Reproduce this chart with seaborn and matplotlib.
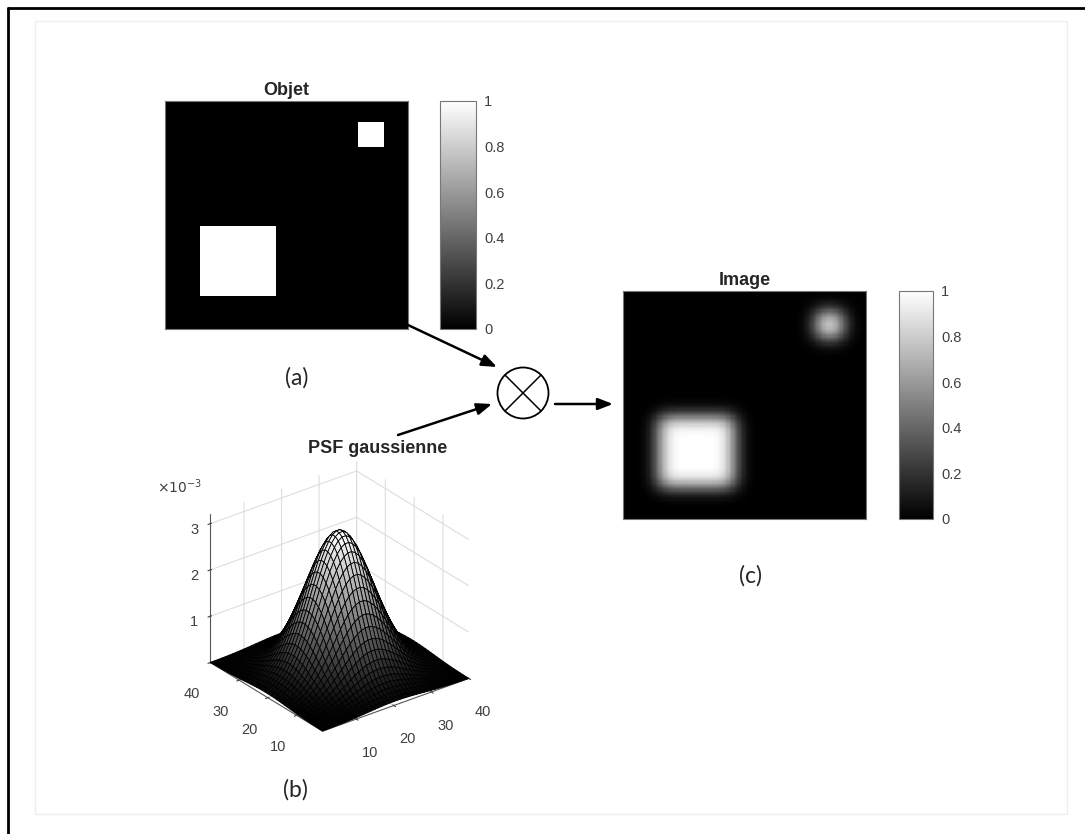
import numpy as np
import matplotlib
matplotlib.use("Agg")
import matplotlib.pyplot as plt
import seaborn as sns
from matplotlib.patches import Circle, Rectangle

sns.set_style("white")
plt.rcParams['font.family'] = ['Liberation Sans', 'DejaVu Sans']

# object: grid and white squares (rows, cols)
grid_size = 200
square_rows = [(18, 40), (110, 171)]
square_cols = [(159, 180), (29, 91)]

# gaussian psf
psf_size = 40
psf_sigma = 7.3

cbar_ticks = [0, 0.2, 0.4, 0.6, 0.8, 1]
cbar_labels = ['0', '0.2', '0.4', '0.6', '0.8', '1']
psf_ticks = [10, 20, 30, 40]
psf_zticks = [1e-3, 2e-3, 3e-3]
psf_zlabels = ['1', '2', '3']

titles = ['Objet', 'PSF gaussienne', 'Image']
panel_labels = ['(a)', '(b)', '(c)']

W, H = 1085, 834
tick_col = '#404040'


def fig_rect(x0, y0, x1, y1):
    # pixel box -> figure fraction
    return [x0 / W, 1 - y1 / H, (x1 - x0) / W, (y1 - y0) / H]


obj = np.zeros((grid_size, grid_size))
for (r0, r1), (c0, c1) in zip(square_rows, square_cols):
    obj[r0:r1, c0:c1] = 1.0

t = np.arange(1, psf_size + 1)
g = np.exp(-(t - (psf_size + 1) / 2) ** 2 / (2 * psf_sigma ** 2))
psf = np.outer(g, g)
psf /= psf.sum()
g1 = g / g.sum()
img = np.apply_along_axis(lambda r: np.convolve(r, g1, mode='same'), 1, obj)
img = np.apply_along_axis(lambda c: np.convolve(c, g1, mode='same'), 0, img)

fig = plt.figure(figsize=(W / 100, H / 100), dpi=100)


def draw_image(data, box, cbox, title):
    ax = fig.add_axes(fig_rect(*box))
    cax = fig.add_axes(fig_rect(*cbox))
    sns.heatmap(data, ax=ax, cmap='gray', vmin=0, vmax=1, cbar_ax=cax,
                xticklabels=False, yticklabels=False, rasterized=True,
                cbar_kws={'ticks': cbar_ticks})
    for s in ax.spines.values():
        s.set_visible(True)
        s.set_color('#777777')
        s.set_linewidth(0.8)
    ax.set_title(title, fontsize=13, fontweight='bold', pad=4)
    cb = ax.collections[0].colorbar
    cb.outline.set_visible(True)
    cb.outline.set_linewidth(0.8)
    cb.outline.set_edgecolor('#777777')
    cax.set_yticklabels(cbar_labels)
    cax.tick_params(length=0, labelsize=10.5, colors=tick_col, pad=6)


draw_image(obj, (165, 101, 408, 329), (440, 101, 476, 329), titles[0])
draw_image(img, (623, 291, 866, 519), (899, 291, 933, 519), titles[2])

# 3d psf
ax3 = fig.add_axes(fig_rect(157, 450, 514, 751), projection='3d')
X, Y = np.meshgrid(t, t)
ax3.plot_surface(X, Y, psf, cmap='gray', edgecolor='black', linewidth=0.6,
                 rstride=1, cstride=1, antialiased=True)
ax3.set_proj_type('ortho')
ax3.view_init(elev=28, azim=-127.5)
ax3.set_box_aspect((1, 1, 0.91))
ax3.set_xlim(1, 40)
ax3.set_ylim(1, 40)
ax3.set_zlim(0, 3.2e-3)
ax3.set_xticks(psf_ticks)
ax3.set_yticks(psf_ticks)
ax3.set_zticks(psf_zticks)
ax3.set_zticklabels(psf_zlabels)
ax3.set_facecolor('none')
for axis in (ax3.xaxis, ax3.yaxis, ax3.zaxis):
    axis.set_pane_color((1, 1, 1, 0))
    axis.pane.set_edgecolor((1, 1, 1, 0))
    axis._axinfo['grid']['color'] = '#dddddd'
    axis._axinfo['grid']['linewidth'] = 0.8
    axis.line.set_color('#555555')
ax3.tick_params(labelsize=10.5, colors=tick_col)
ax3.tick_params(axis='x', pad=6)
ax3.tick_params(axis='y', pad=6)
ax3.tick_params(axis='z', pad=-1)

# overlay in pixel coordinates for arrows, circle, labels and frame
ov = fig.add_axes([0, 0, 1, 1])
ov.set_xlim(0, W)
ov.set_ylim(H, 0)
ov.axis('off')
ov.patch.set_alpha(0)

ov.text(378, 448, titles[1], ha='center', va='center', fontsize=13, fontweight='bold')
ov.text(157, 487, r'$\times10^{-3}$', ha='left', va='center', fontsize=10, color=tick_col)

arrow = dict(arrowstyle='-|>,head_length=0.9,head_width=0.35', color='black', lw=1.8,
             shrinkA=0, shrinkB=0)
ov.annotate('', xy=(497, 367), xytext=(408, 325), arrowprops=arrow)
ov.annotate('', xy=(492, 404), xytext=(398, 435), arrowprops=arrow)
ov.annotate('', xy=(613, 404), xytext=(555, 404), arrowprops=arrow)

cx, cy, r = 523, 393, 25.5
ov.add_patch(Circle((cx, cy), r, fill=False, lw=1.3, color='black'))
d = r * np.cos(np.pi / 4)
ov.plot([cx - d, cx + d], [cy - d, cy + d], color='black', lw=1.1)
ov.plot([cx - d, cx + d], [cy + d, cy - d], color='black', lw=1.1)

for lab, (lx, ly) in zip(panel_labels, [(297, 378), (295, 790), (751, 576)]):
    ov.text(lx, ly, lab, ha='center', va='center', fontsize=16.5, family=['Lato', 'DejaVu Sans'])

ov.add_patch(Rectangle((35, 21), 1032, 793, fill=False, lw=1, edgecolor='#eeeeee'))
ov.plot([8, 8], [8, H], color='black', lw=2)
ov.plot([8, W], [8, 8], color='black', lw=2)

fig.savefig('out.png', dpi=100, facecolor='white')
